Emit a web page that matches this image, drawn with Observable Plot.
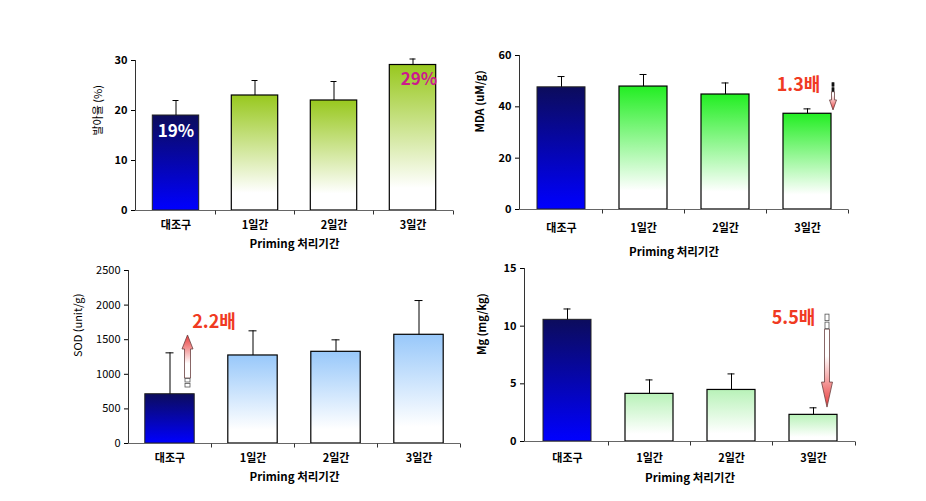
<!DOCTYPE html>
<html><head><meta charset="utf-8">
<script src="https://cdn.jsdelivr.net/npm/d3@7"></script>
<script src="https://cdn.jsdelivr.net/npm/@observablehq/plot@0.6"></script>
<style>
body{margin:0;background:#fff;}
#wrap{position:relative;width:926px;height:501px;overflow:hidden;background:#fff;}
#wrap svg{position:absolute;overflow:visible;}
#p3 g[aria-label^="y-axis"] text{font-weight:normal;}
</style></head><body><div id="wrap"></div>
<script>
// ---- data ----
const categories = ["대조구", "1일간", "2일간", "3일간"];
const xTitle = "Priming 처리기간";

const germValues = [19, 23, 22, 29.1];
const germErrors = [3, 3, 3.8, 1.2];
const germTicks = [0, 10, 20, 30];

const mdaValues = [47.6, 47.9, 44.8, 37.3];
const mdaErrors = [4.2, 4.7, 4.5, 1.9];
const mdaTicks = [0, 20, 40, 60];

const sodValues = [712, 1272, 1325, 1571];
const sodErrors = [598, 356, 173, 495];
const sodTicks = [0, 500, 1000, 1500, 2000, 2500];

const mgValues = [10.55, 4.13, 4.47, 2.31];
const mgErrors = [0.94, 1.21, 1.39, 0.61];
const mgTicks = [0, 5, 10, 15];

const germLabels = [{cat: "대조구", y: 19, text: "19%"}, {cat: "3일간", y: 29.1, text: "29%"}];
const mdaNote = [{cat: "3일간", y: 48.3, text: "1.3배"}];
const mdaArrow = [{cat: "3일간", from: 49.2, to: 38.6}];
const sodNote = [{cat: "대조구", y: 1748, text: "2.2배"}];
const sodArrow = [{cat: "대조구", from: 809, to: 1561}];
const mgNote = [{cat: "3일간", y: 10.7, text: "5.5배"}];
const mgArrow = [{cat: "3일간", from: 11.0, to: 2.94}];

// ---- helpers ----
const FONT = "'Noto Sans CJK KR', 'Noto Sans', sans-serif";

function gradDefs(id, topColor) {
  return () => {
    const defs = d3.create("svg:defs");
    const make = (gid, stops) => {
      const g = defs.append("linearGradient").attr("id", gid)
        .attr("x1", 0).attr("y1", 0).attr("x2", 0).attr("y2", 1);
      stops.forEach(([o, c]) => g.append("stop").attr("offset", o).attr("stop-color", c));
    };
    make(id + "navy", [[0, "#0c0c5c"], [1, "#0000ff"]]);
    make(id + "g", [[0, topColor], [0.85, "#ffffff"], [1, "#ffffff"]]);
    return defs.node();
  };
}

function axisLines() {
  return (index, scales, values, dims) => {
    const {x, y} = scales;
    const g = d3.create("svg:g").attr("stroke", "#333").attr("fill", "none").attr("stroke-width", 1);
    const x0 = dims.marginLeft, x1 = dims.width - dims.marginRight;
    const y0 = Math.round(y(0)) + 0.5, yTop = y(y.domain()[1]);
    g.append("line").attr("x1", x0 + 0.5).attr("x2", x0 + 0.5).attr("y1", y0).attr("y2", yTop);
    g.append("line").attr("x1", x0).attr("x2", x1).attr("y1", y0).attr("y2", y0).attr("stroke", "#666");
    const bx = categories.slice(1).map(c => x(c));
    bx.push(x1);
    bx.forEach(b => g.append("line").attr("x1", Math.round(b) + 0.5).attr("x2", Math.round(b) + 0.5)
      .attr("y1", y0).attr("y2", y0 + 4));
    return g.node();
  };
}

function blockArrow(data, o) {
  return (index, scales) => {
    const {x, y} = scales;
    const g = d3.create("svg:g");
    data.forEach((d, i) => {
      const cx = x(d.cat) + x.bandwidth() / 2 + o.dx;
      const yt = y(d.from), yh = y(d.to);
      const dir = yh < yt ? -1 : 1; // -1 = up
      const gid = o.id + i;
      const lg = g.append("defs").append("linearGradient").attr("id", gid)
        .attr("gradientUnits", "userSpaceOnUse").attr("x1", cx).attr("x2", cx)
        .attr("y1", yt).attr("y2", yh);
      lg.append("stop").attr("offset", 0).attr("stop-color", "#ffffff");
      lg.append("stop").attr("offset", 0.45).attr("stop-color", "#ffffff");
      lg.append("stop").attr("offset", 1).attr("stop-color", "#e83a3a");
      const s0 = yt + dir * o.tail;
      const hb = yh - dir * o.headL;
      const w = o.shaftW / 2, hw = o.headW / 2;
      const p = [[cx - w, s0], [cx - w, hb], [cx - hw, hb], [cx, yh], [cx + hw, hb], [cx + w, hb], [cx + w, s0]];
      g.append("path").attr("d", "M" + p.join("L") + "Z")
        .attr("fill", `url(#${gid})`).attr("stroke", "#6a4040").attr("stroke-width", 0.8);
      const segH = o.tail / 2 - 1;
      for (let k = 0; k < 2; k++) {
        const ya = yt + dir * (k * (segH + 1.5));
        g.append("rect").attr("x", cx - w + 0.5).attr("width", o.shaftW - 1)
          .attr("y", Math.min(ya, ya + dir * segH)).attr("height", segH)
          .attr("fill", o.tailFill).attr("stroke", o.tailStroke).attr("stroke-width", 0.8);
      }
    });
    return g.node();
  };
}

function panel(o) {
  const data = categories.map((c, i) => ({cat: c, v: o.values[i], top: o.values[i] + o.errors[i], ctrl: i === 0}));
  const ins = o.inset;
  const marks = [
    gradDefs(o.id, o.topColor),
    Plot.barY(data.filter(d => d.ctrl), {x: "cat", y: "v", fill: `url(#${o.id}navy)`, stroke: "#222", strokeWidth: 1, insetLeft: ins, insetRight: ins}),
    Plot.barY(data.filter(d => !d.ctrl), {x: "cat", y: "v", fill: `url(#${o.id}g)`, stroke: "#000", strokeWidth: 1.2, insetLeft: ins, insetRight: ins}),
    Plot.ruleX(data, {x: "cat", y1: "v", y2: "top", stroke: "#000", strokeWidth: 1}),
    Plot.tickY(data, {x: "cat", y: "top", stroke: "#000", strokeWidth: 1, insetLeft: o.capInset, insetRight: o.capInset}),
    axisLines(),
    Plot.text([o.yTitle], {text: d => d, frameAnchor: "left", rotate: -90, dx: -o.yTitleDx, fontSize: 11, fontWeight: o.yTitleWeight || "bold", fill: "#000"}),
    Plot.text([xTitle], {text: d => d, frameAnchor: "bottom", dy: o.xTitleDy, dx: o.xTitleDx || 0, fontSize: 11.5, fontWeight: "bold", fill: "#000"}),
    ...(o.extra || [])
  ];
  const svg = Plot.plot({
    width: o.width, height: o.height,
    marginLeft: o.ml, marginRight: o.mr, marginTop: o.mt, marginBottom: o.mb,
    style: {fontFamily: FONT, fontSize: "11px", fontWeight: "bold", color: "#000", background: "transparent", overflow: "visible"},
    x: {domain: categories, padding: 0, tickSize: 0, tickPadding: o.xPad, label: null},
    y: {domain: [0, o.yMax], ticks: o.ticks, tickSize: 4, tickPadding: 4, label: null, tickFormat: d => String(d)},
    marks
  });
  svg.id = o.id;
  svg.style.left = o.left + "px";
  svg.style.top = o.top + "px";
  document.getElementById("wrap").appendChild(svg);
}

const noteStyle = {fill: "#f03a22", fontSize: 18, fontWeight: "bold"};

panel({
  id: "p1", left: 0, top: 0, width: 470, height: 250, ml: 135, mr: 17, mt: 60, mb: 40,
  values: germValues, errors: germErrors, ticks: germTicks, yMax: 30, topColor: "#98c81e",
  inset: 16.3, capInset: 36.5, yTitle: "발아율 (%)", yTitleDx: 37, yTitleWeight: "normal", xPad: 11, xTitleDy: 37,
  extra: [
    Plot.text(germLabels.filter(d => d.text === "19%"), {x: "cat", y: "y", text: "text", dy: 16, fill: "#ffffff", fontSize: 17, fontWeight: "bold"}),
    Plot.text(germLabels.filter(d => d.text === "29%"), {x: "cat", y: "y", text: "text", dy: 15, dx: 6, fill: "#cc1a8c", fontSize: 17, fontWeight: "bold"})
  ]
});

panel({
  id: "p2", left: 470, top: 0, width: 456, height: 250, ml: 49, mr: 78, mt: 55, mb: 41,
  values: mdaValues, errors: mdaErrors, ticks: mdaTicks, yMax: 60, topColor: "#22ee22",
  inset: 17, capInset: 37.5, yTitle: "MDA (uM/g)", yTitleDx: 39, xPad: 15, xTitleDy: 46, xTitleDx: -10,
  extra: [
    Plot.text(mdaNote, {x: "cat", y: "y", text: "text", dx: -9, ...noteStyle}),
    blockArrow(mdaArrow, {id: "a2", dx: 26, shaftW: 3, headW: 7, headL: 10, tail: 9, tailFill: "#111", tailStroke: "#111"})
  ]
});

panel({
  id: "p3", left: 0, top: 250, width: 470, height: 251, ml: 128, mr: 10, mt: 20, mb: 58,
  values: sodValues, errors: sodErrors, ticks: sodTicks, yMax: 2500, topColor: "#98c8fa",
  inset: 16.8, capInset: 37.5, yTitle: "SOD (unit/g)", yTitleDx: 50, yTitleWeight: "normal", xPad: 11, xTitleDy: 37,
  extra: [
    Plot.text(sodNote, {x: "cat", y: "y", text: "text", dx: 44, ...noteStyle}),
    blockArrow(sodArrow, {id: "a3", dx: 18, shaftW: 6, headW: 11, headL: 14, tail: 9, tailFill: "#fff", tailStroke: "#555"})
  ]
});

panel({
  id: "p4", left: 470, top: 250, width: 456, height: 251, ml: 54, mr: 71, mt: 18, mb: 60,
  values: mgValues, errors: mgErrors, ticks: mgTicks, yMax: 15, topColor: "#b8f2b8",
  inset: 17, capInset: 37.5, yTitle: "Mg (mg/kg)", yTitleDx: 42, xPad: 13, xTitleDy: 40,
  extra: [
    Plot.text(mgNote, {x: "cat", y: "y", text: "text", dx: -20, ...noteStyle}),
    blockArrow(mgArrow, {id: "a4", dx: 14, shaftW: 5, headW: 11, headL: 25, tail: 15, tailFill: "#fff", tailStroke: "#555"})
  ]
});
</script></body></html>
